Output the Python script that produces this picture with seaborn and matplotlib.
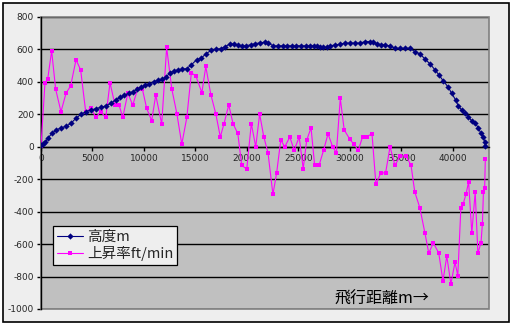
import matplotlib
matplotlib.use("Agg")
import matplotlib.pyplot as plt
from matplotlib.patches import Rectangle
from matplotlib.ticker import FixedLocator, FuncFormatter
import seaborn as sns

# Flight log: altitude (m) and rate of climb (ft/min) against distance flown (m)
dist_alt = [0, 160, 390, 710, 1070, 1460, 1940, 2430, 2910, 3400, 3880, 4370, 4850,
            5340, 5830, 6310, 6800, 7250, 7700, 8090, 8510, 8900, 9320, 9740, 10130,
            10520, 10940, 11360, 11750, 12150, 12500, 12900, 13300, 13700, 14150,
            14600, 15100, 15550, 16050, 16550, 17000, 17450, 17900, 18350, 18700,
            19100, 19500, 19950, 20350, 20800, 21250, 21750, 22080, 22560, 23000,
            23450, 23900, 24350, 24800, 25250, 25700, 26100, 26500, 26770, 27050,
            27400, 27730, 28060, 28500, 29030, 29520, 30000, 30500, 30980, 31460,
            31900, 32270, 32600, 33000, 33450, 33890, 34370, 34850, 35350, 35830,
            36310, 36800, 37290, 37770, 38260, 38640, 39060, 39550, 39870, 40260,
            40520, 40840, 41170, 41490, 41810, 42140, 42460, 42720, 42950, 43080,
            43140]
altitude = [10, 16, 27, 56, 83, 103, 116, 126, 145, 176, 200, 217, 227,
            235, 243, 252, 268, 290, 304, 317, 329, 339, 354, 368, 379,
            387, 400, 410, 416, 430, 455, 466, 474, 478, 482,
            505, 536, 546, 575, 595, 601, 604, 618, 634, 632,
            628, 620, 624, 628, 636, 640, 645, 639, 622, 622,
            622, 622, 622, 622, 622, 622, 622, 622, 622, 612,
            612, 612, 622, 627, 632, 639, 639, 639, 639, 648,
            648, 648, 635, 630, 626, 622, 607, 607, 607, 607,
            586, 572, 541, 511, 474, 443, 406, 367, 330, 289,
            252, 227, 206, 186, 161, 148, 117, 82, 58, 31,
            5]

dist_climb = [0, 388, 650, 1035, 1420, 1940, 2430, 2880, 3400, 3850, 4340, 4850,
              5310, 5800, 6290, 6700, 7190, 7580, 7940, 8430, 8910, 9370, 9850,
              10260, 10750, 11140, 11720, 12200, 12700, 13190, 13670, 14160, 14600,
              15040, 15620, 16000, 16490, 16970, 17410, 17770, 18230, 18650, 19110,
              19490, 19980, 20420, 20850, 21230, 21630, 22040, 22520, 22880, 23280,
              23670, 24160, 24580, 25070, 25460, 25800, 26220, 26570, 27000, 27440,
              27870, 28320, 28680, 29060, 29440, 30000, 30390, 30810, 31230, 31620,
              32140, 32520, 32990, 33460, 33890, 34370, 34880, 35440, 35930, 36290,
              36780, 37280, 37650, 38100, 38620, 39030, 39400, 39800, 40200, 40470,
              40770, 41000, 41260, 41520, 41830, 42160, 42420, 42720, 42860, 42960,
              43080, 43140]
climb = [5, 395, 418, 591, 356, 216, 330, 376, 536, 474, 216, 240,
         181, 216, 181, 395, 257, 257, 181, 330, 257, 354, 354,
         237, 161, 320, 140, 612, 356, 205, 16, 181, 456,
         436, 334, 495, 322, 204, 61, 142, 258, 142, 82,
         -115, -137, 143, 0, 202, 62, -37, -294, -161, 41,
         0, 60, -21, 60, -135, 41, 117, -114, -114, -21,
         80, 0, -37, 299, 104, 45, 15, -21, 62, 62,
         80, -232, -161, -161, 0, -114, -56, -56, -114, -278,
         -375, -532, -655, -593, -655, -828, -674, -845, -712, -794,
         -376, -350, -294, -216, -532, -278, -655, -593, -474, -278,
         -257, -74]

x_ticks = [0, 5000, 10000, 15000, 20000, 25000, 30000, 35000, 40000]
y_ticks = [-1000, -800, -600, -400, -200, 0, 200, 400, 600, 800]
series_labels = ["高度m", "上昇率ft/min"]
x_title = "飛行距離m→"

sns.set_theme(style="white")
plt.rcParams["font.family"] = ["DejaVu Sans"]
plt.rcParams["axes.unicode_minus"] = False
cjk = ["Noto Sans CJK JP", "DejaVu Sans"]

fig = plt.figure(figsize=(5.13, 3.26), dpi=100, facecolor="white")
# chart frame
frame = Rectangle((3 / 513, 1 - 322 / 326), 506 / 513, 319 / 326,
                  transform=fig.transFigure, facecolor="#EEEEEE",
                  edgecolor="black", linewidth=1.2, zorder=-10)
fig.patches.append(frame)
ax = fig.add_axes([41 / 513, 1 - 309 / 326, 448 / 513, 292 / 326])
ax.set_zorder(1)
ax.set_facecolor("#C0C0C0")

sns.lineplot(x=dist_alt, y=altitude, ax=ax, color="#000080", linewidth=0.8,
             marker="D", markersize=3.2, markeredgewidth=0, estimator=None,
             sort=False, label=series_labels[0], zorder=4)
sns.lineplot(x=dist_climb, y=climb, ax=ax, color="#FF00FF", linewidth=0.8,
             marker="s", markersize=3.4, markeredgewidth=0, estimator=None,
             sort=False, label=series_labels[1], zorder=3)

ax.set_xlim(0, 43500)
ax.set_ylim(-1000, 800)
ax.yaxis.set_major_locator(FixedLocator(y_ticks))
ax.xaxis.set_major_locator(FixedLocator(x_ticks))
ax.yaxis.set_major_formatter(FuncFormatter(lambda v, p: f"{int(v)}"))
ax.xaxis.set_major_formatter(FuncFormatter(lambda v, p: f"{int(v)}"))

ax.yaxis.grid(True, color="black", linewidth=1)
ax.xaxis.grid(False)
ax.set_axisbelow(True)

# x axis crosses at zero
for side in ("top", "right"):
    ax.spines[side].set_visible(False)
ax.spines["bottom"].set_position(("data", 0))
ax.spines["bottom"].set_color("black")
ax.spines["bottom"].set_linewidth(1)
ax.spines["left"].set_color("black")
ax.spines["left"].set_linewidth(1)
ax.spines["bottom"].set_zorder(2)
ax.add_patch(Rectangle((0, 0), 1, 1, transform=ax.transAxes, fill=False,
                       edgecolor="#808080", linewidth=1.2, zorder=1, clip_on=False))

ax.tick_params(axis="both", which="major", direction="out", length=3, width=1,
               color="black", labelsize=6.5, pad=2, bottom=True, left=True)
ax.set_xlabel("")
ax.set_ylabel("")

ax.text(0.761, 0.035, x_title, transform=ax.transAxes, ha="center", va="center",
        fontsize=11.5, family=cjk, color="black")

leg = ax.legend(loc="upper left", bbox_to_anchor=(0.027, 0.284), frameon=True,
                fancybox=False, edgecolor="black", facecolor="#EEEEEE",
                framealpha=1, borderpad=0.25, labelspacing=0.15,
                handlelength=1.8, handletextpad=0.3, borderaxespad=0,
                prop={"family": cjk, "size": 10.5})
leg.get_frame().set_linewidth(0.9)

fig.savefig("out.png", dpi=100, facecolor="white")
